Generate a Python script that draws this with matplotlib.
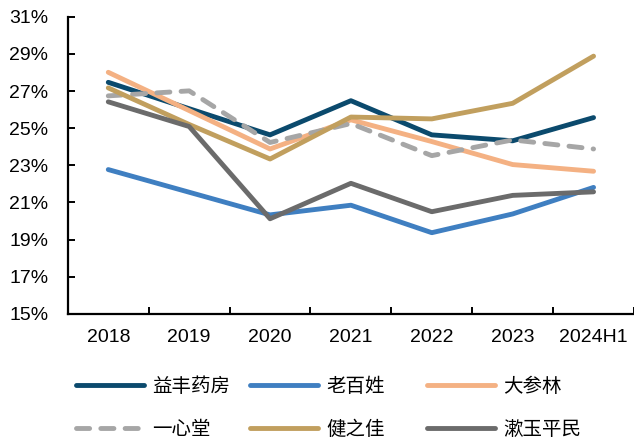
import matplotlib
matplotlib.use("Agg")
import matplotlib.pyplot as plt
from matplotlib.ticker import FixedLocator, FuncFormatter

# Gross margin by company (%)
years = ['2018', '2019', '2020', '2021', '2022', '2023', '2024H1']
yifeng = [27.47, 26.05, 24.64, 26.48, 24.64, 24.32, 25.57]
laobaixing = [22.77, 21.55, 20.33, 20.85, 19.37, 20.38, 21.81]
dashenlin = [28.01, 25.95, 23.88, 25.45, 24.28, 23.04, 22.68]
yixintang = [26.74, 27.01, 24.23, 25.25, 23.52, 24.37, 23.88]
jianzhijia = [27.17, 25.2, 23.34, 25.6, 25.5, 26.34, 28.88]
shuyu = [26.42, 25.09, 20.12, 22.03, 20.5, 21.38, 21.57]

names = ['益丰药房', '老百姓', '大参林', '一心堂', '健之佳', '漱玉平民']
colors = ['#0B4A6D', '#3F7FC1', '#F4B183', '#A6A6A6', '#C19F5E', '#6B6B6B']
series = [yifeng, laobaixing, dashenlin, yixintang, jianzhijia, shuyu]

plt.rcParams['font.family'] = ['Liberation Sans', 'Noto Sans CJK SC']

fig = plt.figure(figsize=(6.34, 4.42), dpi=100)
ax = fig.add_axes([0.107, 0.29, 0.893, 0.672])

x = list(range(len(years)))
lines = {}
for name, vals, c in zip(names, series, colors):
    if name == '一心堂':
        ln, = ax.plot(x, vals, color=c, lw=3.5, linestyle=(0, (2.7, 2.3)),
                      dash_capstyle='round', solid_joinstyle='round')
    else:
        ln, = ax.plot(x, vals, color=c, lw=3.5, solid_capstyle='round',
                      solid_joinstyle='round')
    lines[name] = ln

ax.set_xlim(-0.5, len(years) - 0.5)
ax.set_ylim(15, 31)
ax.set_yticks(range(15, 32, 2))
ax.yaxis.set_major_formatter(FuncFormatter(lambda v, p: f'{v:.0f}%'))
ax.set_xticks(x)
ax.set_xticklabels(years)
ax.xaxis.set_minor_locator(FixedLocator([i + 0.5 for i in x]))

ax.tick_params(axis='x', which='major', length=0, pad=11, labelsize=14)
ax.tick_params(axis='x', which='minor', direction='in', length=5, width=1.4)
ax.tick_params(axis='y', direction='in', length=5, width=1.4, pad=14, labelsize=14)

for s in ['top', 'right']:
    ax.spines[s].set_visible(False)
for s in ['left', 'bottom']:
    ax.spines[s].set_linewidth(1.6)

# legend: three columns placed on a fixed grid
cjk = {'family': ['Noto Sans CJK SC', 'DejaVu Sans'], 'size': 14}
col_x = [75.5, 250, 426.5]
columns = [['益丰药房', '一心堂'], ['老百姓', '健之佳'], ['大参林', '漱玉平民']]
for cx, col in zip(col_x, columns):
    fig.legend([lines[n] for n in col], col, loc='upper left',
               bbox_to_anchor=(cx / 634, 1 - 376 / 442), frameon=False,
               prop=cjk, handlelength=3.5, handletextpad=0.45,
               borderpad=0, borderaxespad=0, labelspacing=1.11)

fig.savefig('out.png', dpi=100)
